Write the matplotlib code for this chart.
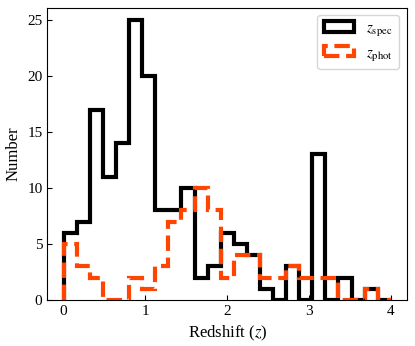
import numpy as np
import matplotlib
matplotlib.use('Agg')
import matplotlib.pyplot as plt

plt.rcParams['font.family'] = ['Liberation Serif', 'DejaVu Serif']
plt.rcParams['mathtext.fontset'] = 'stix'

# Bin edges (25 bins of width 0.16 from 0 to 4)
bin_edges = np.linspace(0, 4, 26)

# Counts per bin
spec_counts = [6, 7, 17, 11, 14, 25, 20, 8, 8, 10, 2, 3, 6,
               5, 4, 1, 0, 3, 0, 13, 0, 2, 0, 1, 0]
phot_counts = [5, 3, 2, 0, 0, 2, 1, 3, 7, 8, 10, 8, 2,
               4, 4, 2, 2, 3, 2, 2, 2, 0, 0, 1, 0]

centers = 0.5 * (bin_edges[:-1] + bin_edges[1:])

fig = plt.figure(figsize=(4.15, 3.46), dpi=100)
ax = fig.add_axes([0.114, 0.133, 0.867, 0.845])

ax.hist(centers, bins=bin_edges, weights=spec_counts, histtype='step',
        color='black', lw=3, label=r'$z_{\rm spec}$')
ax.hist(centers, bins=bin_edges, weights=phot_counts, histtype='step',
        color='#FF4500', lw=3, ls='--', label=r'$z_{\rm phot}$')

ax.set_xlim(-0.2, 4.2)
ax.set_ylim(0, 26.1)
ax.set_xticks([0, 1, 2, 3, 4])
ax.set_yticks([0, 5, 10, 15, 20, 25])
ax.tick_params(direction='in', labelsize=11)
ax.set_xlabel(r'Redshift ($z$)', fontsize=12)
ax.set_ylabel('Number', fontsize=12)
ax.legend(loc='upper right', fontsize=11)

fig.savefig('out.png', dpi=100)
